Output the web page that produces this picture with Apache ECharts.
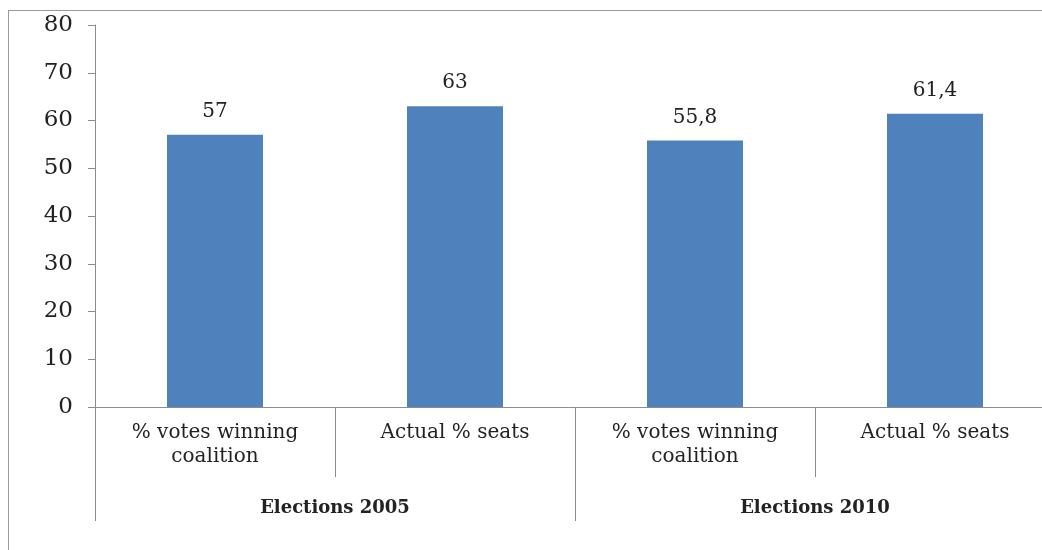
<!DOCTYPE html>
<html>
<head>
<meta charset="utf-8">
<script src="https://cdn.jsdelivr.net/npm/echarts@6/dist/echarts.min.js"></script>
<style>
  html, body { margin:0; padding:0; background:#fff; }
  #frame { position:absolute; left:8px; top:10px; width:1100px; height:600px; border:1px solid #9a9a9a; }
  #main { position:absolute; left:0; top:0; width:1042px; height:550px; }
</style>
</head>
<body>
<div id="frame"></div>
<div id="main"></div>
<script type="text/javascript">
	// data
	var categories = ['% votes winning\ncoalition', 'Actual % seats', '% votes winning\ncoalition', 'Actual % seats'];
	var groups = ['Elections 2005', 'Elections 2010'];
	var values = [57, 63, 55.8, 61.4];
	var yTicks = { min: 0, max: 80, step: 10 };

	var serif = '"DejaVu Serif", "Liberation Serif", serif';
	var myChart = echarts.init(document.getElementById('main'));
	var option = {
		animation: false,
		grid: {
			left: 95,
			top: 25,
			width: 960,
			height: 382,
			outerBoundsMode: 'none',
			containLabel: false
		},
		xAxis: [
			{
				type: 'category',
				data: categories,
				axisLine: { lineStyle: { color: '#8c8c8c', width: 1 } },
				axisTick: { show: true, interval: 0, length: 70, lineStyle: { color: '#8c8c8c' } },
				axisLabel: {
					interval: 0,
					margin: 14,
					color: '#222',
					fontFamily: serif,
					fontSize: 20,
					lineHeight: 24
				}
			},
			{
				type: 'category',
				data: groups,
				position: 'bottom',
				axisLine: { show: false },
				axisTick: { show: true, interval: 0, length: 114, lineStyle: { color: '#8c8c8c' } },
				axisLabel: {
					interval: 0,
					margin: 92,
					color: '#222',
					fontFamily: serif,
					fontWeight: 'bold',
					fontSize: 18
				}
			}
		],
		yAxis: {
			type: 'value',
			min: yTicks.min,
			max: yTicks.max,
			interval: yTicks.step,
			axisLine: { show: true, lineStyle: { color: '#8c8c8c' } },
			axisTick: { show: true, length: 7, lineStyle: { color: '#8c8c8c' } },
			splitLine: { show: false },
			axisLabel: {
				margin: 22,
				color: '#222',
				fontFamily: serif,
				fontSize: 23
			}
		},
		series: [
			{
				type: 'bar',
				xAxisIndex: 0,
				data: values,
				barWidth: 96,
				itemStyle: { color: '#4f81bd' },
				label: {
					show: true,
					position: 'top',
					distance: 13,
					color: '#222',
					fontFamily: serif,
					fontSize: 20,
					formatter: function (p) { return String(p.value).replace('.', ','); }
				}
			}
		]
	};
	myChart.setOption(option);
</script>
</body>
</html>
